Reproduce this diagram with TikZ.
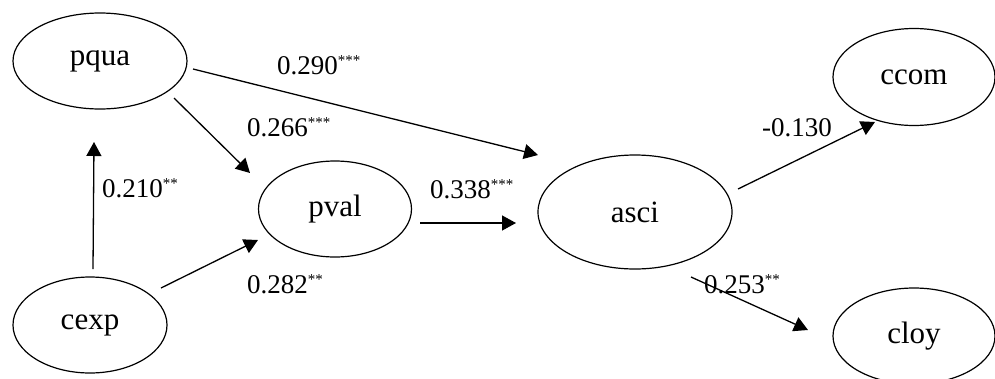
\documentclass[tikz,border=0pt]{standalone}
\usepackage{fontspec}
\setmainfont{Liberation Serif}
\usetikzlibrary{arrows.meta,calc,shapes.geometric}
\newcommand\stars[1]{\raisebox{8.5pt}{\fontsize{15}{15}\selectfont #1}}
\begin{document}
\begin{tikzpicture}[x=1pt,y=-1pt,
  lat/.style={ellipse,draw,line width=1.2pt,inner sep=0pt,font=\fontsize{31}{36}\selectfont},
  arr/.style={line width=1.3pt,-{Triangle[length=14pt,width=15pt]}},
  lab/.style={anchor=base west,inner sep=0pt,font=\fontsize{27}{30}\selectfont}]
\useasboundingbox (0,0) rectangle (995,378);
\node[lat,minimum width=174pt,minimum height=96pt] (pqua) at (100,61) {pqua};
\node[lat,minimum width=154pt,minimum height=96pt] (cexp) at (90,325) {cexp};
\node[lat,minimum width=153pt,minimum height=96pt] (pval) at (335,209) {pval};
\node[lat,minimum width=194pt,minimum height=114pt] (asci) at (635,212) {asci};
\node[lat,minimum width=162pt,minimum height=97pt] (ccom) at (914,77) {ccom};
\node[lat,minimum width=162pt,minimum height=96pt] (cloy) at (914,336) {cloy};
% connectors
\draw[arr] ($(pqua.center)+(93,8)$) -- ($(asci.center)+(-97,-57)$);
\draw[arr] ($(pqua.center)+(74,37)$) -- ($(pval.center)+(-85,-36)$);
\draw[arr] ($(cexp.center)+(3,-56)$) -- ($(pqua.center)+(-6,81)$);
\draw[arr] ($(cexp.center)+(71,-37)$) -- ($(pval.center)+(-77,31)$);
\draw[arr] ($(pval.center)+(85,14)$) -- ($(asci.center)+(-119,11)$);
\draw[arr] ($(asci.center)+(103,-23)$) -- ($(ccom.center)+(-39,45)$);
\draw[arr] ($(asci.center)+(56,65)$) -- ($(cloy.center)+(-106,-6)$);
% labels
\node[lab] (l1) at (277,74) {0.290\stars{***}};
\node[lab] (l2) at (247,136) {0.266\stars{***}};
\node[lab] (l3) at (102,197) {0.210\stars{**}};
\node[lab] (l4) at (247,293) {0.282\stars{**}};
\node[lab] (l5) at (430,198) {0.338\stars{***}};
\node[lab] (l6) at (762,136) {-0.130};
\node[lab] (l7) at (704,293) {0.253\stars{**}};
\end{tikzpicture}
\end{document}
